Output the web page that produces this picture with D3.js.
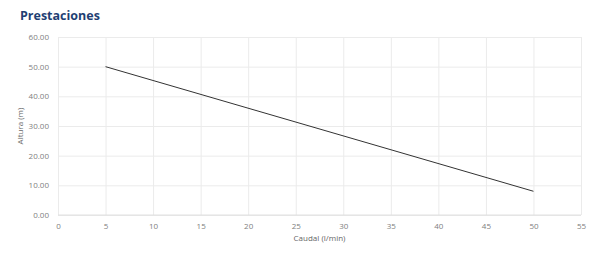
<!DOCTYPE html>
<html lang="es">
<head>
<meta charset="UTF-8">
<title>Prestaciones</title>
<script src="https://cdn.jsdelivr.net/npm/d3@7/dist/d3.min.js"></script>
<style>
  body { margin: 0; background: #fff; font-family: "Open Sans", sans-serif; }
  .grid line { stroke: #ebebeb; }
  .grid path { display: none; }
  .axis text { fill: #808080; font-size: 8px; font-family: "Open Sans", sans-serif; }
  .axis line, .axis path { display: none; }
</style>
</head>
<body>
<script>
var caudal = [5, 50];
var altura = [50, 8];
var xTicks = [0, 5, 10, 15, 20, 25, 30, 35, 40, 45, 50, 55];
var yTicks = [0, 10, 20, 30, 40, 50, 60];

var width = 600, height = 253;
var margin = {top: 37, right: 19, bottom: 38, left: 58};
var w = width - margin.left - margin.right;
var h = height - margin.top - margin.bottom;

var svg = d3.select("body").append("svg")
  .attr("width", width)
  .attr("height", height);

svg.append("text")
  .attr("x", 20).attr("y", 20)
  .attr("fill", "#1f3f73")
  .attr("font-weight", "bold")
  .attr("font-size", 12.5)
  .text("Prestaciones");

var g = svg.append("g").attr("transform", "translate(" + margin.left + "," + margin.top + ")");

var x = d3.scaleLinear().domain([0, 55]).range([0, w]);
var y = d3.scaleLinear().domain([0, 60]).range([h, 0]);

// rejilla
g.append("g").attr("class", "grid")
  .call(d3.axisBottom(x).tickValues(xTicks).tickSize(h).tickFormat(""));
g.append("g").attr("class", "grid")
  .call(d3.axisLeft(y).tickValues(yTicks).tickSize(-w).tickFormat(""));

g.append("line")
  .attr("x1", 0).attr("x2", w).attr("y1", h).attr("y2", h)
  .attr("stroke", "#e0e0e0");

g.append("g").attr("class", "axis")
  .attr("transform", "translate(0," + h + ")")
  .call(d3.axisBottom(x).tickValues(xTicks).tickSize(0).tickPadding(8));
g.append("g").attr("class", "axis")
  .call(d3.axisLeft(y).tickValues(yTicks).tickSize(0).tickPadding(9).tickFormat(d3.format(".2f")));

var line = d3.line()
  .x(function(d, i) { return x(caudal[i]); })
  .y(function(d) { return y(d); });

g.append("path")
  .datum(altura)
  .attr("d", line)
  .attr("fill", "none")
  .attr("stroke", "#333")
  .attr("stroke-width", 1);

svg.append("text")
  .attr("x", margin.left + w / 2).attr("y", 241)
  .attr("text-anchor", "middle")
  .attr("fill", "#666")
  .attr("font-size", 8)
  .text("Caudal (l/min)");

svg.append("text")
  .attr("transform", "translate(23," + (margin.top + h / 2) + ") rotate(-90)")
  .attr("text-anchor", "middle")
  .attr("fill", "#666")
  .attr("font-size", 8)
  .text("Altura (m)");
</script>
</body>
</html>
